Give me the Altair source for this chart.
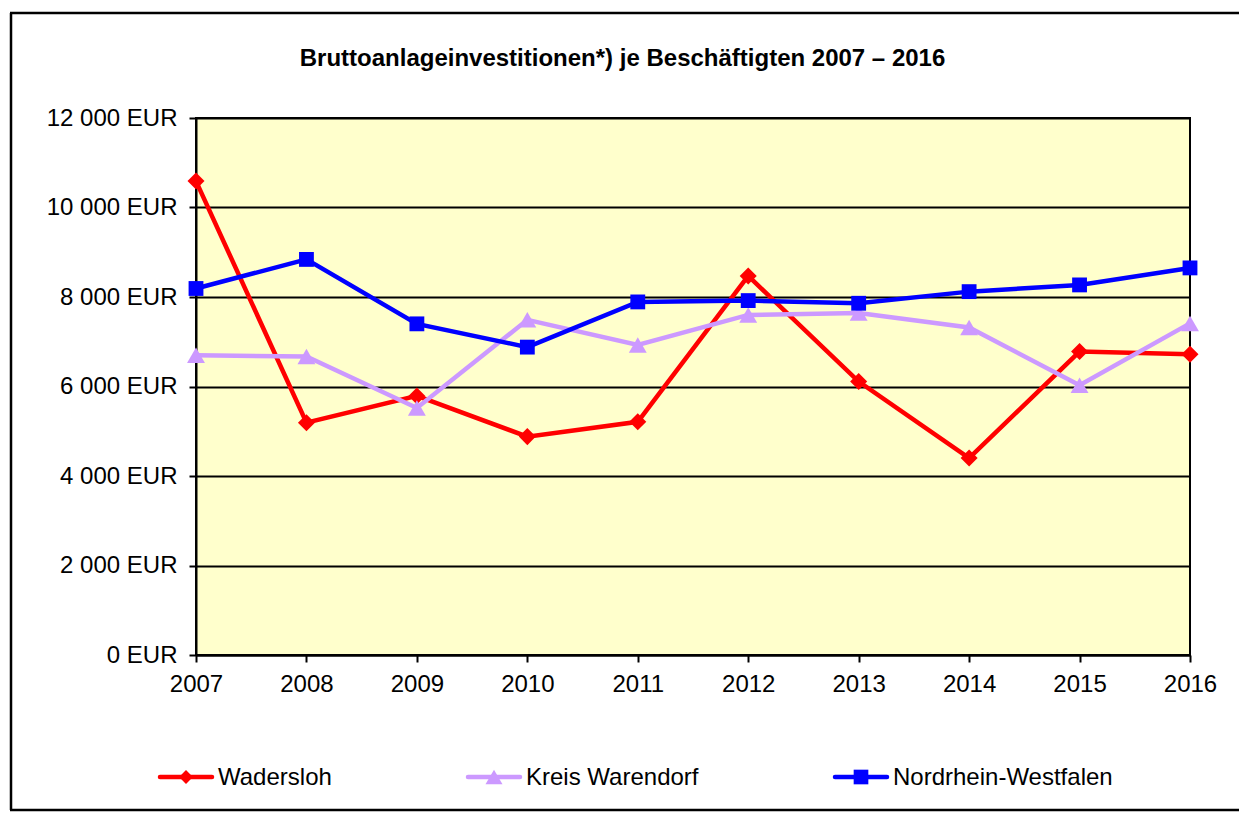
import altair as alt
import pandas as pd

FONT = "Liberation Sans, Arial, sans-serif"
TITLE = "Bruttoanlageinvestitionen*) je Beschäftigten 2007 – 2016"

years = ["2007", "2008", "2009", "2010", "2011", "2012", "2013", "2014", "2015", "2016"]
wadersloh = [10590, 5190, 5790, 4880, 5210, 8470, 6110, 4400, 6780, 6720]
kreis_warendorf = [6700, 6670, 5520, 7490, 6930, 7600, 7640, 7320, 6030, 7410]
nrw = [8190, 8840, 7400, 6880, 7890, 7920, 7860, 8120, 8270, 8650]

series_names = ["Wadersloh", "Kreis Warendorf", "Nordrhein-Westfalen"]
series_colors = ["#FF0000", "#CC99FF", "#0000FF"]
marker_shapes = ["diamond", "triangle-up", "square"]
marker_sizes = [290, 320, 220]
legend_marker_sizes = [190, 290, 215]
y_ticks = [0, 2000, 4000, 6000, 8000, 10000, 12000]

rows = []
for name, vals in zip(series_names, [wadersloh, kreis_warendorf, nrw]):
    for yr, v in zip(years, vals):
        rows.append({"year": yr, "value": v, "series": name})
df = pd.DataFrame(rows)

LBL = 24
x_enc = alt.X(
    "year:O",
    scale=alt.Scale(type="point", padding=0),
    axis=alt.Axis(
        title=None, labelAngle=0, labelFontSize=LBL, labelFont=FONT, labelColor="black",
        tickColor="black", tickSize=7, tickWidth=2, domainColor="black", domainWidth=2,
        labelPadding=10, grid=False,
    ),
)
y_enc = alt.Y(
    "value:Q",
    scale=alt.Scale(domain=[0, 12000], nice=False),
    axis=alt.Axis(
        title=None, values=y_ticks,
        labelExpr="replace(format(datum.value, ',d'), ',', ' ') + ' EUR'",
        labelFontSize=LBL, labelFont=FONT, labelColor="black",
        tickColor="black", tickSize=7, tickWidth=2, domainColor="black", domainWidth=2,
        gridColor="black", gridWidth=2, labelPadding=12,
    ),
)
color_scale = alt.Scale(domain=series_names, range=series_colors)

lines = alt.Chart(df).mark_line(strokeWidth=4.5).encode(
    x=x_enc, y=y_enc,
    color=alt.Color("series:N", scale=color_scale, legend=None),
)

point_layers = []
for name, col, shp, sz in zip(series_names, series_colors, marker_shapes, marker_sizes):
    point_layers.append(
        alt.Chart(df).transform_filter(alt.datum.series == name)
        .mark_point(filled=True, opacity=1, strokeWidth=0, shape=shp, size=sz, color=col)
        .encode(x=x_enc, y=y_enc)
    )

# legend drawn below the plot (pixel offsets relative to the plot area)
legend_centers = [-10, 298, 665]
LEG_Y = 659
legend_layers = []
for name, col, shp, sz, cx in zip(series_names, series_colors, marker_shapes,
                                  legend_marker_sizes, legend_centers):
    src = alt.Chart(pd.DataFrame({"series": [name]}))
    legend_layers.append(
        src.mark_rule(color=col, strokeWidth=4.5, strokeCap="round", clip=False)
        .encode(x=alt.value(cx - 26), x2=alt.value(cx + 26), y=alt.value(LEG_Y))
    )
    legend_layers.append(
        src.mark_point(filled=True, opacity=1, strokeWidth=0, shape=shp, size=sz, color=col, clip=False)
        .encode(x=alt.value(cx), y=alt.value(LEG_Y))
    )
    legend_layers.append(
        src.mark_text(font=FONT, fontSize=LBL, align="left", baseline="middle", color="black", clip=False)
        .encode(text="series:N", x=alt.value(cx + 32), y=alt.value(LEG_Y + 1))
    )

frame_left = alt.Chart(pd.DataFrame({"a": [0]})).mark_rule(
    color="black", strokeWidth=2.5, clip=False
).encode(x=alt.value(-185), y=alt.value(-105), y2=alt.value(692))
frame_top = alt.Chart(pd.DataFrame({"a": [0]})).mark_rule(
    color="black", strokeWidth=2.5, clip=False
).encode(x=alt.value(-186), x2=alt.value(1100), y=alt.value(-105))
frame_bottom = alt.Chart(pd.DataFrame({"a": [0]})).mark_rule(
    color="black", strokeWidth=2.5, clip=False
).encode(x=alt.value(-186), x2=alt.value(1100), y=alt.value(692))

title = alt.Chart(pd.DataFrame({"t": [TITLE]})).mark_text(
    font=FONT, fontSize=24, fontWeight="bold", align="center", baseline="alphabetic", color="black"
).encode(text="t:N", x=alt.value(426.5), y=alt.value(-52))

chart = alt.layer(
    frame_left, frame_top, frame_bottom, lines, *point_layers, *legend_layers, title
).properties(
    width=994, height=537,
    padding={"left": 188, "top": 110, "right": 49, "bottom": 157},
    autosize=alt.AutoSizeParams(type="none"),
).configure_view(fill="#FFFFCC", stroke="black", strokeWidth=2)

chart.save("out.html", embed_options={"renderer": "svg", "actions": False})
